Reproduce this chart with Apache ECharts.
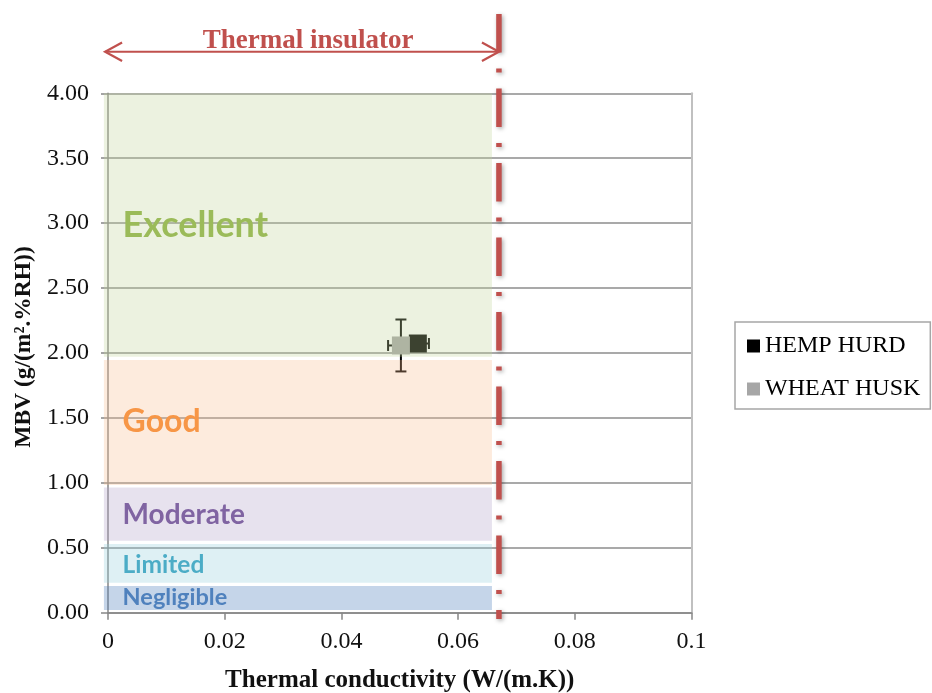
<!DOCTYPE html>
<html>
<head>
<meta charset="utf-8">
<script src="https://cdn.jsdelivr.net/npm/echarts@6/dist/echarts.min.js"></script>
<style>
  html, body { margin: 0; padding: 0; background: #ffffff; }
  #chart { width: 932px; height: 693px; }
</style>
</head>
<body>
<div id="chart"></div>
<script>
// Measured materials
const seriesNames = ['HEMP HURD', 'WHEAT HUSK'];
const conductivity = [0.0531, 0.0502];      // W/(m.K)
const mbv = [2.073, 2.058];                 // g/(m².%RH)
const conductivityErr = [0.0019, 0.0022];
const mbvErr = [0.05, 0.20];

// MBV classes (Nordtest scale)
const bandNames = ['Excellent', 'Good', 'Moderate', 'Limited', 'Negligible'];
const bandLow = [1.972, 0.983, 0.554, 0.231, 0.021];
const bandHigh = [4.0, 1.946, 0.965, 0.529, 0.206];
const bandLabelLevel = [2.986, 1.473, 0.756, 0.367, 0.121];
const bandStart = -0.0007;
const bandEnd = 0.0658;
const bandLabelX = 0.0025;

// Thermal insulator limit
const insulatorLimit = 0.067;
const limitLineSpan = [4.61, -0.0485];
const arrowSpan = [-0.0005, 0.067];
const arrowLevel = 4.32;
const insulatorTitle = 'Thermal insulator';
const insulatorTitlePos = [0.0343, 4.40];

// Axes
const xTicks = [0, 0.02, 0.04, 0.06, 0.08, 0.1];
const yTicks = [0, 0.5, 1, 1.5, 2, 2.5, 3, 3.5, 4];

// Styles
const seriesColors = ['#000000', '#a6a6a6'];
const bandFills = [
  'rgba(195,214,155,0.31)',
  'rgba(250,192,144,0.31)',
  'rgba(179,162,199,0.31)',
  'rgba(147,205,221,0.31)',
  'rgba(79,129,189,0.33)'
];
const bandTextColors = ['#9bbb59', '#f79646', '#8064a2', '#4bacc6', '#4f81bd'];
const bandFontSizes = [36, 32, 28, 24.5, 23.5];
const red = '#c0504d';
const serif = '"Liberation Serif", "Times New Roman", serif';

const chart = echarts.init(document.getElementById('chart'));

const scatterSeries = seriesNames.map((name, i) => ({
  name: name,
  type: 'scatter',
  symbol: 'rect',
  symbolSize: 18,
  z: 2,
  itemStyle: { color: seriesColors[i], opacity: 1 },
  data: [[conductivity[i], mbv[i]]]
}));

const errorSeries = {
  type: 'custom',
  z: 1,
  silent: true,
  encode: { x: 0, y: 1 },
  data: seriesNames.map((n, i) => [conductivity[i], mbv[i], conductivityErr[i], mbvErr[i]]),
  renderItem: function (params, api) {
    const x = api.value(0), y = api.value(1), ex = api.value(2), ey = api.value(3);
    const top = api.coord([x, y + ey]);
    const bottom = api.coord([x, y - ey]);
    const left = api.coord([x - ex, y]);
    const right = api.coord([x + ex, y]);
    const cap = 5.5;
    const style = { stroke: '#000', lineWidth: 2, fill: null };
    const seg = (x1, y1, x2, y2) => ({ type: 'line', shape: { x1, y1, x2, y2 }, style });
    return {
      type: 'group',
      children: [
        seg(top[0], top[1], bottom[0], bottom[1]),
        seg(top[0] - cap, top[1], top[0] + cap, top[1]),
        seg(bottom[0] - cap, bottom[1], bottom[0] + cap, bottom[1]),
        seg(left[0], left[1], right[0], right[1]),
        seg(left[0], left[1] - cap, left[0], left[1] + cap),
        seg(right[0], right[1] - cap, right[0], right[1] + cap)
      ]
    };
  }
};

const bandSeries = {
  type: 'custom',
  z: 3,
  silent: true,
  encode: { x: [0, 1], y: [2, 3] },
  data: bandNames.map((n, i) => [bandStart, bandEnd, bandLow[i], bandHigh[i]]),
  renderItem: function (params, api) {
    const p0 = api.coord([api.value(0), api.value(3)]);
    const p1 = api.coord([api.value(1), api.value(2)]);
    return {
      type: 'rect',
      shape: { x: p0[0], y: p0[1], width: p1[0] - p0[0], height: p1[1] - p0[1] },
      style: { fill: bandFills[params.dataIndex] }
    };
  }
};

const bandLabelSeries = {
  type: 'custom',
  z: 4,
  silent: true,
  encode: { x: 0, y: 1 },
  data: bandNames.map((n, i) => [bandLabelX, bandLabelLevel[i]]),
  renderItem: function (params, api) {
    const i = params.dataIndex;
    const p = api.coord([api.value(0), api.value(1)]);
    return {
      type: 'text',
      x: p[0],
      y: p[1],
      style: {
        text: bandNames[i],
        fill: bandTextColors[i],
        fontFamily: 'Lato, "Open Sans", sans-serif',
        fontWeight: 'bold',
        fontSize: bandFontSizes[i],
        align: 'left',
        verticalAlign: 'middle'
      }
    };
  }
};

const limitSeries = {
  type: 'custom',
  z: 5,
  silent: true,
  data: [[insulatorLimit, limitLineSpan[0], limitLineSpan[1]]],
  renderItem: function (params, api) {
    const a = api.coord([api.value(0), api.value(1)]);
    const b = api.coord([api.value(0), api.value(2)]);
    return {
      type: 'line',
      shape: { x1: a[0], y1: a[1], x2: b[0], y2: b[1] },
      style: {
        stroke: red,
        lineWidth: 5.5,
        lineDash: [38.5, 16, 4, 16],
        lineCap: 'butt',
        fill: null,
        shadowColor: 'rgba(0,0,0,0.35)',
        shadowBlur: 4,
        shadowOffsetX: 1.5,
        shadowOffsetY: 1.5
      }
    };
  }
};

const arrowSeries = {
  type: 'custom',
  z: 5,
  silent: true,
  data: [[arrowSpan[0], arrowSpan[1], arrowLevel, insulatorTitlePos[0], insulatorTitlePos[1]]],
  renderItem: function (params, api) {
    const l = api.coord([api.value(0), api.value(2)]);
    const r = api.coord([api.value(1), api.value(2)]);
    const t = api.coord([api.value(3), api.value(4)]);
    const hl = 17, hw = 9.3;
    const style = { stroke: red, lineWidth: 2.2, fill: null };
    return {
      type: 'group',
      children: [
        { type: 'line', shape: { x1: l[0], y1: l[1], x2: r[0], y2: r[1] }, style },
        { type: 'polyline', shape: { points: [[l[0] + hl, l[1] - hw], [l[0], l[1]], [l[0] + hl, l[1] + hw]] }, style },
        { type: 'polyline', shape: { points: [[r[0] - hl, r[1] - hw], [r[0], r[1]], [r[0] - hl, r[1] + hw]] }, style },
        {
          type: 'text', x: t[0], y: t[1],
          style: {
            text: insulatorTitle, fill: red,
            fontFamily: serif, fontWeight: 'bold', fontSize: 27,
            align: 'center', verticalAlign: 'middle'
          }
        }
      ]
    };
  }
};

const option = {
  animation: false,
  backgroundColor: '#ffffff',
  grid: {
    left: 108, right: 240.5, top: 93.3, bottom: 80.3,
    containLabel: false,
    outerBoundsMode: 'none'
  },
  legend: {
    data: seriesNames,
    orient: 'vertical',
    left: 735,
    top: 322,
    icon: 'rect',
    itemWidth: 13,
    itemHeight: 13,
    itemGap: 19,
    padding: [12, 10, 8, 12],
    borderColor: '#a6a6a6',
    borderWidth: 1.5,
    selectedMode: false,
    textStyle: { fontFamily: serif, fontSize: 24, color: '#000' }
  },
  xAxis: {
    type: 'value',
    min: xTicks[0],
    max: xTicks[xTicks.length - 1],
    interval: xTicks[1] - xTicks[0],
    name: 'Thermal conductivity (W/(m.K))',
    nameLocation: 'middle',
    nameGap: 55,
    nameTextStyle: { fontFamily: serif, fontWeight: 'bold', fontSize: 25, color: '#111' },
    axisLine: { show: true, onZero: false, lineStyle: { color: '#868686', width: 1.5 } },
    axisTick: { show: true, length: 7, lineStyle: { color: '#868686', width: 1.5 } },
    splitLine: { show: false },
    axisLabel: {
      fontFamily: serif, fontSize: 24, color: '#111', margin: 17,
      formatter: v => String(+v.toFixed(2))
    }
  },
  yAxis: [{
    type: 'value',
    min: yTicks[0],
    max: yTicks[yTicks.length - 1],
    interval: yTicks[1] - yTicks[0],
    name: 'MBV (g/(m².%RH))',
    nameLocation: 'middle',
    nameRotate: 90,
    nameGap: 61,
    nameTextStyle: {
      fontFamily: serif, fontWeight: 'bold', fontSize: 23.5, color: '#111',
      padding: [0, 0, 0, 12]
    },
    axisLine: { show: true, lineStyle: { color: '#868686', width: 1.5 } },
    axisTick: { show: true, length: 7, lineStyle: { color: '#868686', width: 1.5 } },
    splitLine: { show: true, lineStyle: { color: '#8c8c8c', width: 1.5 } },
    axisLabel: {
      fontFamily: serif, fontSize: 24, color: '#111', margin: 19,
      padding: [3, 0, 0, 0],
      formatter: v => v.toFixed(2)
    }
  }, {
    type: 'value',
    position: 'right',
    min: yTicks[0],
    max: yTicks[yTicks.length - 1],
    axisLine: { show: true, lineStyle: { color: '#c0c0c0', width: 2 } },
    axisTick: { show: false },
    axisLabel: { show: false },
    splitLine: { show: false }
  }],
  series: [...scatterSeries, errorSeries, bandSeries, bandLabelSeries, limitSeries, arrowSeries]
};

chart.setOption(option);
</script>
</body>
</html>
